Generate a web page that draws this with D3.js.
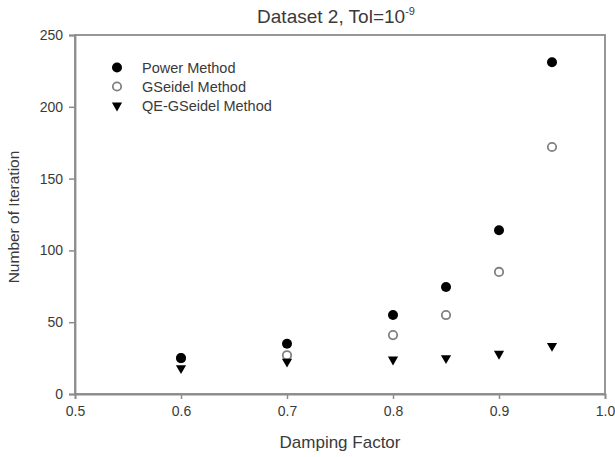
<!DOCTYPE html>
<html><head><meta charset="utf-8">
<script src="https://cdn.jsdelivr.net/npm/d3@7"></script>
<style>body{margin:0;background:#fff;} text{font-family:"Liberation Sans",Arial,sans-serif;}</style>
</head><body>
<svg id="c" width="615" height="457"></svg>
<script>
const damping = [0.6, 0.7, 0.8, 0.85, 0.9, 0.95];
const powerIter = [25, 35, 55, 74.5, 114, 231];
const gseidelIter = [25, 27, 41, 55, 85, 172];
const qeIter = [18, 22.5, 24, 25, 28, 33.5];
const xTicks = [0.5, 0.6, 0.7, 0.8, 0.9, 1.0];
const yTicks = [0, 50, 100, 150, 200, 250];
const seriesNames = ["Power Method", "GSeidel Method", "QE-GSeidel Method"];

const svg = d3.select("#c");
const L = 75, R = 605, T = 35, B = 394;
const x = d3.scaleLinear().domain([0.5, 1.0]).range([L, R]);
const y = d3.scaleLinear().domain([0, 250]).range([B, T]);
const axisCol = "#8c8c8c", txtCol = "#3a3a3a";

svg.append("rect").attr("x", L).attr("y", T).attr("width", R - L).attr("height", B - T)
  .attr("fill", "none").attr("stroke", axisCol).attr("stroke-width", 1.8);

const gx = svg.append("g").attr("transform", `translate(0,${B})`)
  .call(d3.axisBottom(x).tickValues(xTicks).tickFormat(d3.format(".1f")).tickSize(5).tickPadding(7));
const gy = svg.append("g").attr("transform", `translate(${L},0)`)
  .call(d3.axisLeft(y).tickValues(yTicks).tickSize(6).tickPadding(6));
[gx, gy].forEach(g => {
  g.select(".domain").attr("stroke", axisCol).attr("stroke-width", 1.8);
  g.selectAll(".tick line").attr("stroke", axisCol).attr("stroke-width", 1.5);
  g.selectAll(".tick text").attr("fill", txtCol).style("font-size", "14px").style("font-family", "Liberation Sans, Arial, sans-serif");
});

const title = svg.append("text").attr("x", 336).attr("y", 23).attr("text-anchor", "middle")
  .attr("fill", txtCol).style("font-size", "19px");
title.append("tspan").text("Dataset 2, Tol=10");
title.append("tspan").attr("dy", -8).style("font-size", "11px").text("-9");

svg.append("text").attr("x", 340).attr("y", 448).attr("text-anchor", "middle")
  .attr("fill", txtCol).style("font-size", "17px").text("Damping Factor");
svg.append("text").attr("transform", `translate(19,217) rotate(-90)`).attr("text-anchor", "middle")
  .attr("fill", txtCol).style("font-size", "15.5px").text("Number of Iteration");

const tri = d3.symbol().type(d3.symbolTriangle).size(45);
function marker(g, kind, cx, cy) {
  if (kind === 0) g.append("circle").attr("cx", cx).attr("cy", cy).attr("r", 5).attr("fill", "#000");
  else if (kind === 1) g.append("circle").attr("cx", cx).attr("cy", cy).attr("r", 4.2).attr("fill", "#fff").attr("stroke", "#808080").attr("stroke-width", 1.8);
  else g.append("path").attr("d", tri).attr("transform", `translate(${cx},${cy}) rotate(180)`).attr("fill", "#000");
}
[[gseidelIter, 1], [powerIter, 0], [qeIter, 2]].forEach(([vals, k]) => {
  const g = svg.append("g");
  vals.forEach((v, i) => marker(g, k, x(damping[i]), y(v)));
});

seriesNames.forEach((n, i) => {
  const ly = [67.5, 86.5, 105.5][i];
  marker(svg, i, 117, ly);
  svg.append("text").attr("x", 142).attr("y", ly + 5).attr("fill", txtCol).style("font-size", "14.5px").text(n);
});
</script>
</body></html>
